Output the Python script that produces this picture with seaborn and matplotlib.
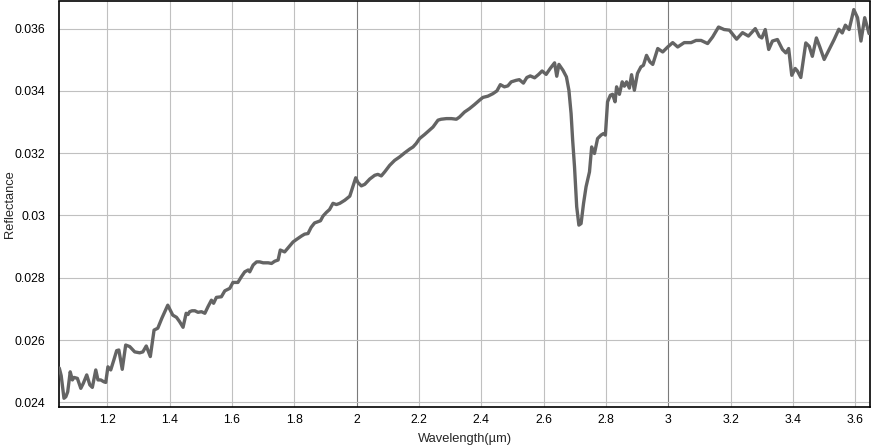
import numpy as np
import pandas as pd
import matplotlib
matplotlib.use("Agg")
import matplotlib.pyplot as plt
from matplotlib.ticker import FuncFormatter
import seaborn as sns

wavelength = [
    1.046, 1.052, 1.061, 1.067, 1.073, 1.081, 1.088, 1.093, 1.104, 1.115, 1.123, 1.134, 1.144, 1.152,
    1.163, 1.170, 1.179, 1.189, 1.195, 1.202, 1.211, 1.221, 1.230, 1.237, 1.248, 1.259, 1.272, 1.288,
    1.304, 1.314, 1.325, 1.338, 1.350, 1.362, 1.375, 1.394, 1.410, 1.422, 1.432, 1.443, 1.453, 1.459,
    1.464, 1.472, 1.481, 1.491, 1.502, 1.513, 1.523, 1.534, 1.541, 1.550, 1.566, 1.577, 1.593, 1.603,
    1.619, 1.630, 1.641, 1.652, 1.657, 1.668, 1.679, 1.689, 1.700, 1.716, 1.727, 1.737, 1.748, 1.755,
    1.769, 1.785, 1.796, 1.807, 1.823, 1.833, 1.844, 1.854, 1.865, 1.876, 1.884, 1.892, 1.903, 1.913,
    1.924, 1.935, 1.946, 1.962, 1.978, 1.986, 1.997, 2.004, 2.015, 2.026, 2.042, 2.058, 2.068, 2.079,
    2.090, 2.106, 2.122, 2.138, 2.154, 2.170, 2.181, 2.191, 2.202, 2.218, 2.234, 2.245, 2.261, 2.271,
    2.288, 2.304, 2.320, 2.330, 2.346, 2.362, 2.378, 2.394, 2.405, 2.421, 2.437, 2.450, 2.461, 2.474,
    2.485, 2.496, 2.512, 2.522, 2.535, 2.546, 2.557, 2.571, 2.584, 2.595, 2.608, 2.621, 2.635, 2.642,
    2.649, 2.662, 2.673, 2.681, 2.688, 2.693, 2.699, 2.706, 2.713, 2.720, 2.728, 2.736, 2.747, 2.754,
    2.763, 2.773, 2.784, 2.792, 2.798, 2.805, 2.814, 2.821, 2.829, 2.834, 2.843, 2.852, 2.859, 2.866,
    2.875, 2.882, 2.891, 2.901, 2.912, 2.920, 2.930, 2.941, 2.950, 2.966, 2.982, 2.998, 3.014, 3.030,
    3.051, 3.073, 3.089, 3.105, 3.126, 3.142, 3.161, 3.179, 3.196, 3.219, 3.238, 3.257, 3.279, 3.292,
    3.300, 3.311, 3.322, 3.334, 3.350, 3.366, 3.377, 3.386, 3.396, 3.407, 3.414, 3.425, 3.441, 3.452,
    3.462, 3.475, 3.486, 3.500, 3.516, 3.532, 3.547, 3.558, 3.568, 3.580, 3.595, 3.607, 3.618, 3.630,
    3.644,
]

reflectance = [
    0.02510, 0.02486, 0.02413, 0.02418, 0.02434, 0.02498, 0.02472, 0.02480, 0.02477, 0.02445, 0.02461,
    0.02488, 0.02456, 0.02448, 0.02504, 0.02472, 0.02472, 0.02466, 0.02464, 0.02514, 0.02504, 0.02536,
    0.02566, 0.02568, 0.02506, 0.02584, 0.02579, 0.02562, 0.02559, 0.02562, 0.02581, 0.02547, 0.02632,
    0.02638, 0.02670, 0.02712, 0.02680, 0.02673, 0.02659, 0.02641, 0.02686, 0.02682, 0.02691, 0.02694,
    0.02694, 0.02689, 0.02691, 0.02686, 0.02707, 0.02728, 0.02718, 0.02737, 0.02739, 0.02758, 0.02766,
    0.02785, 0.02785, 0.02803, 0.02819, 0.02825, 0.02819, 0.02841, 0.02851, 0.02851, 0.02848, 0.02848,
    0.02846, 0.02853, 0.02857, 0.02889, 0.02883, 0.02902, 0.02915, 0.02923, 0.02934, 0.02940, 0.02942,
    0.02962, 0.02976, 0.02980, 0.02983, 0.02998, 0.03010, 0.03019, 0.03039, 0.03035, 0.03039, 0.03049,
    0.03062, 0.03087, 0.03121, 0.03106, 0.03095, 0.03100, 0.03117, 0.03129, 0.03132, 0.03127, 0.03140,
    0.03161, 0.03177, 0.03188, 0.03201, 0.03213, 0.03220, 0.03231, 0.03247, 0.03260, 0.03274, 0.03284,
    0.03306, 0.03309, 0.03311, 0.03311, 0.03309, 0.03316, 0.03332, 0.03343, 0.03356, 0.03370, 0.03379,
    0.03383, 0.03391, 0.03400, 0.03420, 0.03413, 0.03416, 0.03429, 0.03434, 0.03436, 0.03425, 0.03443,
    0.03448, 0.03442, 0.03453, 0.03464, 0.03453, 0.03472, 0.03490, 0.03447, 0.03485, 0.03466, 0.03445,
    0.03402, 0.03327, 0.03242, 0.03156, 0.03028, 0.02969, 0.02974, 0.03039, 0.03092, 0.03140, 0.03220,
    0.03199, 0.03247, 0.03258, 0.03263, 0.03258, 0.03365, 0.03386, 0.03389, 0.03365, 0.03413, 0.03389,
    0.03429, 0.03415, 0.03429, 0.03409, 0.03452, 0.03402, 0.03456, 0.03477, 0.03482, 0.03514, 0.03493,
    0.03485, 0.03536, 0.03525, 0.03541, 0.03555, 0.03541, 0.03555, 0.03555, 0.03562, 0.03562, 0.03552,
    0.03573, 0.03605, 0.03597, 0.03595, 0.03566, 0.03587, 0.03576, 0.03600, 0.03575, 0.03570, 0.03597,
    0.03533, 0.03560, 0.03565, 0.03533, 0.03522, 0.03536, 0.03450, 0.03472, 0.03464, 0.03443, 0.03554,
    0.03543, 0.03511, 0.03570, 0.03541, 0.03501, 0.03533, 0.03565, 0.03598, 0.03586, 0.03611, 0.03597,
    0.03661, 0.03635, 0.03560, 0.03635, 0.03584,
]

x_ticks = [1.2, 1.4, 1.6, 1.8, 2.0, 2.2, 2.4, 2.6, 2.8, 3.0, 3.2, 3.4, 3.6]
y_ticks = [0.024, 0.026, 0.028, 0.030, 0.032, 0.034, 0.036]

df = pd.DataFrame({"Wavelength": wavelength, "Reflectance": reflectance})

sns.set_style("white")
plt.rcParams["font.family"] = ["Liberation Sans", "DejaVu Sans"]

fig = plt.figure(figsize=(8.71, 4.48), dpi=100)
ax = fig.add_axes([59.3 / 871, 41.3 / 448, (870 - 59.3) / 871, (406.7 - 1.5) / 448])

sns.lineplot(data=df, x="Wavelength", y="Reflectance", ax=ax, color="#646464",
             linewidth=2.4, sort=False, estimator=None, zorder=3)

ax.set_xlim(1.046, 3.647)
ax.set_ylim(0.02386, 0.03687)
ax.set_xticks(x_ticks)
ax.set_yticks(y_ticks)
fmt = FuncFormatter(lambda v, p: f"{round(v, 6):g}")
ax.xaxis.set_major_formatter(fmt)
ax.yaxis.set_major_formatter(fmt)

ax.grid(True, color="#c0c0c0", linewidth=0.8, zorder=0)
for val, gl in zip(ax.get_xticks(), ax.get_xgridlines()):
    if abs(val - round(val)) < 1e-9:
        gl.set_color("#7a7a7a")

ax.tick_params(axis="both", length=0, labelsize=8.8, colors="black")
ax.tick_params(axis="y", pad=10)
ax.tick_params(axis="x", pad=5)

for s in ax.spines.values():
    s.set_visible(True)
    s.set_color("black")
    s.set_linewidth(1.2)

ax.set_xlabel("Wavelength(µm)", fontsize=9.3)
ax.xaxis.label.set_va("center")
ax.xaxis.set_label_coords(0.5, -(439 - 406.7) / 405.2)
ax.set_ylabel("Reflectance", fontsize=9.3)
ax.yaxis.label.set_va("center")
ax.yaxis.set_label_coords(-(59.3 - 10) / 810.7, 0.5)

fig.savefig("out.png", dpi=100)
